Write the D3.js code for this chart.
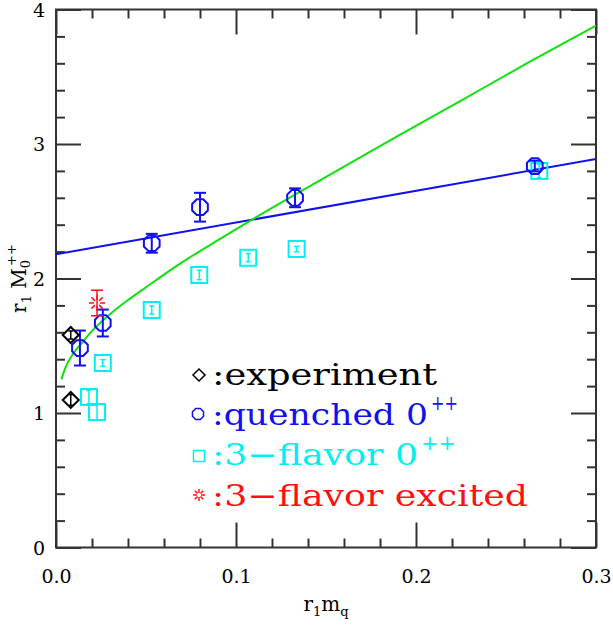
<!DOCTYPE html>
<html><head><meta charset="utf-8">
<script src="https://cdn.jsdelivr.net/npm/d3@7"></script>
<style>html,body{margin:0;padding:0;background:#fff;}svg{display:block;}</style>
</head><body>
<svg id="c" width="613" height="627"></svg>
<script>
// ---- data ----
const expX = [0.0082, 0.0082];
const expY = [1.58, 1.097];
const expE = [0.03, 0.04];

const qX = [0.0133, 0.026, 0.0532, 0.08, 0.1328, 0.266];
const qY = [1.483, 1.669, 2.262, 2.53, 2.60, 2.836];
const qE = [0.13, 0.10, 0.07, 0.107, 0.07, 0.04];

const fX = [0.0183, 0.0228, 0.026, 0.0532, 0.0796, 0.1068, 0.1337, 0.2685];
const fY = [1.119, 1.007, 1.372, 1.766, 2.026, 2.155, 2.219, 2.80];
const fE = [0.05, 0.06, 0.025, 0.03, 0.035, 0.03, 0.02, 0.05];

const eX = [0.0228];
const eY = [1.818];
const eE = [0.095];

const lineX = [0, 0.3];
const lineY = [2.18, 2.888];

const curveX = [0.003, 0.005, 0.01, 0.015, 0.02, 0.03, 0.04, 0.05, 0.07, 0.09, 0.108, 0.133, 0.152, 0.19, 0.226, 0.263, 0.3];
const curveY = [1.25, 1.33, 1.45, 1.53, 1.61, 1.735, 1.84, 1.935, 2.12, 2.285, 2.43, 2.625, 2.77, 3.06, 3.33, 3.61, 3.88];

const xMajor = [0, 0.1, 0.2, 0.3];
const xMajorLabels = ["0.0", "0.1", "0.2", "0.3"];
const xMinor = [0.02,0.04,0.06,0.08,0.12,0.14,0.16,0.18,0.22,0.24,0.26,0.28];
const yMajor = [0, 1, 2, 3, 4];
const yMajorLabels = ["0", "1", "2", "3", "4"];
const yMinor = [0.2,0.4,0.6,0.8,1.2,1.4,1.6,1.8,2.2,2.4,2.6,2.8,3.2,3.4,3.6,3.8];

// ---- layout ----
const L = 56, R = 596, T = 9.5, B = 547.5;
const svg = d3.select("#c");
const x = d3.scaleLinear().domain([0, 0.3]).range([L, R]);
const y = d3.scaleLinear().domain([0, 4]).range([B, T]);
const AX = "#333";
const FONT = "DejaVu Serif, Liberation Serif, serif";
const BLUE = "#1010f0", CYAN = "#00f0f0", GREEN = "#10e010", RED = "#ff1010";

function styleAxis(g) {
  g.selectAll("path.domain").remove();
  g.selectAll("line").attr("stroke", AX).attr("stroke-width", 2);
  g.selectAll("text").attr("font-family", FONT).attr("font-size", 19).attr("fill", "#000");
}
// major / minor ticks all sides
svg.append("g").attr("transform", `translate(0,${B})`)
  .call(d3.axisBottom(x).tickValues(xMajor).tickFormat((d,i)=>xMajorLabels[i]).tickSizeInner(-25).tickSizeOuter(0).tickPadding(22)).call(styleAxis);
svg.append("g").attr("transform", `translate(0,${B})`)
  .call(d3.axisBottom(x).tickValues(xMinor).tickFormat("").tickSizeInner(-9).tickSizeOuter(0)).call(styleAxis);
svg.append("g").attr("transform", `translate(0,${T})`)
  .call(d3.axisTop(x).tickValues(xMajor).tickFormat("").tickSizeInner(-25).tickSizeOuter(0)).call(styleAxis);
svg.append("g").attr("transform", `translate(0,${T})`)
  .call(d3.axisTop(x).tickValues(xMinor).tickFormat("").tickSizeInner(-9).tickSizeOuter(0)).call(styleAxis);
const yAx = svg.append("g").attr("transform", `translate(${L},0)`)
  .call(d3.axisLeft(y).tickValues(yMajor).tickFormat((d,i)=>yMajorLabels[i]).tickSizeInner(-25).tickSizeOuter(0).tickPadding(11)).call(styleAxis);
yAx.selectAll("text").attr("dy", "0.36em");
svg.append("g").attr("transform", `translate(${L},0)`)
  .call(d3.axisLeft(y).tickValues(yMinor).tickFormat("").tickSizeInner(-9).tickSizeOuter(0)).call(styleAxis);
svg.append("g").attr("transform", `translate(${R},0)`)
  .call(d3.axisRight(y).tickValues(yMajor).tickFormat("").tickSizeInner(-25).tickSizeOuter(0)).call(styleAxis);
svg.append("g").attr("transform", `translate(${R},0)`)
  .call(d3.axisRight(y).tickValues(yMinor).tickFormat("").tickSizeInner(-9).tickSizeOuter(0)).call(styleAxis);
svg.append("rect").attr("x", L).attr("y", T).attr("width", R-L).attr("height", B-T)
  .attr("fill", "none").attr("stroke", AX).attr("stroke-width", 2);

// axis titles
const xt = svg.append("text").attr("x", (L+R)/2).attr("y", 611).attr("text-anchor", "middle")
  .attr("font-family", FONT).attr("font-size", 20).attr("fill", "#000");
xt.append("tspan").text("r");
xt.append("tspan").attr("font-size", 13).attr("dy", 5).text("1");
xt.append("tspan").attr("dy", -5).text("m");
xt.append("tspan").attr("font-size", 13).attr("dy", 5).text("q");

const yt = svg.append("text").attr("transform", `translate(26,${(T+B)/2}) rotate(-90)`).attr("text-anchor", "middle")
  .attr("font-family", FONT).attr("font-size", 20).attr("fill", "#000");
yt.append("tspan").text("r");
yt.append("tspan").attr("font-size", 13).attr("dy", 5).text("1");
yt.append("tspan").attr("dy", -5).text("\u00a0M");
yt.append("tspan").attr("font-size", 13).attr("dy", 4).text("0");
yt.append("tspan").attr("font-size", 13).attr("dx", -6).attr("dy", -14).text("++");

// clip for lines
svg.append("clipPath").attr("id", "clip").append("rect").attr("x", L).attr("y", T).attr("width", R-L).attr("height", B-T);

// blue line
svg.append("path").attr("clip-path", "url(#clip)")
  .attr("d", d3.line().x(d=>x(d[0])).y(d=>y(d[1]))(d3.zip(lineX, lineY)))
  .attr("fill", "none").attr("stroke", BLUE).attr("stroke-width", 2);
// green curve
svg.append("path").attr("clip-path", "url(#clip)")
  .attr("d", d3.line().curve(d3.curveMonotoneX).x(d=>x(d[0])).y(d=>y(d[1]))(d3.zip(curveX, curveY)))
  .attr("fill", "none").attr("stroke", GREEN).attr("stroke-width", 2);

// symbol helpers
function octagon(cx, cy, r) {
  const pts = d3.range(8).map(i => { const a = Math.PI/8 + i*Math.PI/4; return [cx + r*Math.cos(a), cy + r*Math.sin(a)]; });
  return "M" + pts.map(p=>p.join(",")).join("L") + "Z";
}
function diamond(cx, cy, r) { return `M${cx},${cy-r}L${cx+r},${cy}L${cx},${cy+r}L${cx-r},${cy}Z`; }
function square(cx, cy, r) { return `M${cx-r},${cy-r}H${cx+r}V${cy+r}H${cx-r}Z`; }
function star(g, cx, cy, r0, r1, color) {
  d3.range(8).forEach(i => {
    const a = i*Math.PI/4;
    g.append("line").attr("x1", cx + r0*Math.cos(a)).attr("y1", cy + r0*Math.sin(a))
      .attr("x2", cx + r1*Math.cos(a)).attr("y2", cy + r1*Math.sin(a))
      .attr("stroke", color).attr("stroke-width", 1.5);
  });
}
function errbar(g, xv, yv, ev, cap, color, w) {
  const cx = x(xv), y1 = y(yv-ev), y2 = y(yv+ev);
  g.append("line").attr("x1", cx).attr("x2", cx).attr("y1", y1).attr("y2", y2).attr("stroke", color).attr("stroke-width", w);
  g.append("line").attr("x1", cx-cap).attr("x2", cx+cap).attr("y1", y1).attr("y2", y1).attr("stroke", color).attr("stroke-width", w);
  g.append("line").attr("x1", cx-cap).attr("x2", cx+cap).attr("y1", y2).attr("y2", y2).attr("stroke", color).attr("stroke-width", w);
}

const gm = svg.append("g");
// 3-flavor squares
fX.forEach((xv,i) => {
  gm.append("path").attr("d", square(x(xv), y(fY[i]), 8)).attr("fill", "none").attr("stroke", CYAN).attr("stroke-width", 2);
  errbar(gm, xv, fY[i], fE[i], 2.5, CYAN, 1.5);
});
// quenched octagons
qX.forEach((xv,i) => {
  gm.append("path").attr("d", octagon(x(xv), y(qY[i]), 8.5)).attr("fill", "none").attr("stroke", BLUE).attr("stroke-width", 2);
  errbar(gm, xv, qY[i], qE[i], 6, BLUE, 2);
});
// experiment diamonds
expX.forEach((xv,i) => {
  gm.append("path").attr("d", diamond(x(xv), y(expY[i]), 8)).attr("fill", "none").attr("stroke", "#000").attr("stroke-width", 2);
  errbar(gm, xv, expY[i], expE[i], 2.5, "#000", 1.5);
});
// excited
eX.forEach((xv,i) => {
  star(gm, x(xv), y(eY[i]), 3, 8, RED);
  errbar(gm, xv, eY[i], eE[i], 6, RED, 1.5);
});

// legend
const lg = svg.append("g").attr("font-family", FONT).attr("font-size", 30);
lg.append("path").attr("d", diamond(199, 375, 6)).attr("fill", "none").attr("stroke", "#000").attr("stroke-width", 1.5);
lg.append("text").attr("x", 212).attr("y", 385).attr("fill", "#000").attr("textLength", 225).attr("lengthAdjust", "spacingAndGlyphs").text(":experiment");

lg.append("path").attr("d", octagon(198, 414, 6)).attr("fill", "none").attr("stroke", BLUE).attr("stroke-width", 1.5);
lg.append("text").attr("x", 212).attr("y", 425).attr("fill", BLUE).attr("textLength", 216).attr("lengthAdjust", "spacingAndGlyphs").text(":quenched 0");
lg.append("text").attr("x", 431).attr("y", 410).attr("fill", BLUE).attr("font-size", 20).attr("textLength", 27).attr("lengthAdjust", "spacingAndGlyphs").text("++");

lg.append("path").attr("d", square(199, 456, 5.5)).attr("fill", "none").attr("stroke", CYAN).attr("stroke-width", 1.5);
lg.append("text").attr("x", 212).attr("y", 465).attr("fill", CYAN).attr("textLength", 206).attr("lengthAdjust", "spacingAndGlyphs").text(":3\u2212flavor 0");
lg.append("text").attr("x", 421).attr("y", 450).attr("fill", CYAN).attr("font-size", 20).attr("textLength", 35).attr("lengthAdjust", "spacingAndGlyphs").text("++");

star(lg, 199, 495, 2, 6, RED);
lg.append("text").attr("x", 212).attr("y", 506).attr("fill", RED).attr("textLength", 316).attr("lengthAdjust", "spacingAndGlyphs").text(":3\u2212flavor excited");
</script>
</body></html>
